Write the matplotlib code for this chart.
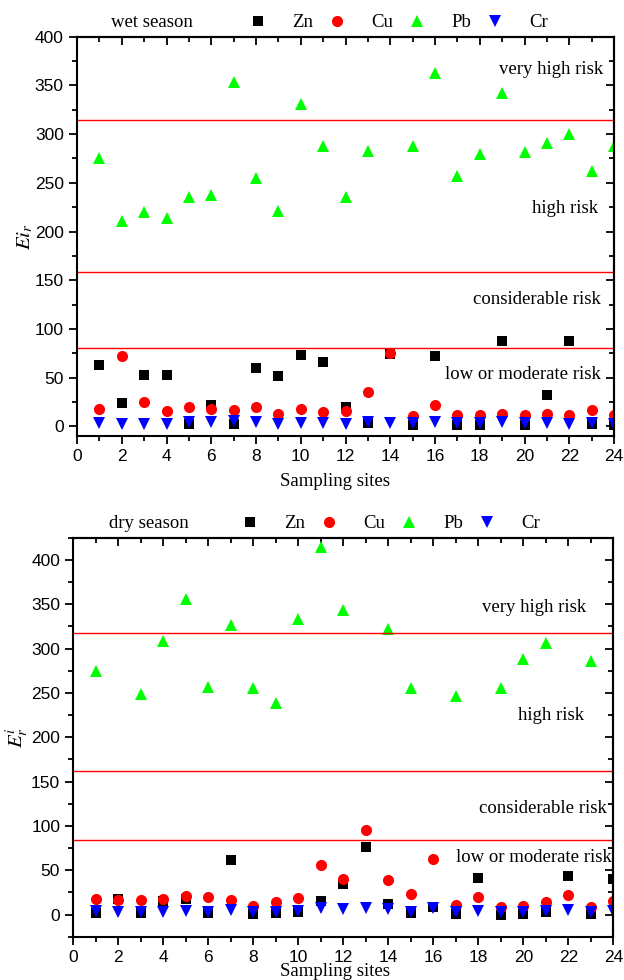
import matplotlib.pyplot as plt
import matplotlib.ticker as mticker
import numpy as np

plt.rcParams['mathtext.fontset'] = 'stix'

sites = np.arange(1, 25)
metals = ["Zn", "Cu", "Pb", "Cr"]

# wet season Er values
wet_zn = [63, 24, 53, 53, 2.6, 22, 2.6, 60, 52, 73, 66, 20,
          3.3, 74, 1.5, 72, 1.5, 1, 88, 1, 32, 88, 2.5, 1.5]
wet_cu = [18, 72, 25, 16, 20, 18, 17, 20, 13, 18, 15, 16,
          35, 75, 11, 22, 12, 12, 12.5, 11.5, 13, 12, 16.5, 12]
wet_pb = [275, 211, 220, 214, 235, 238, 354, 255, 221, 331, 288, 235,
          283, np.nan, 288, 363, 257, 280, 342, 282, 291, 300, 262, 288]
wet_cr = [3.3, 2.8, 2.5, 2.8, 4.6, 4, 5, 4, 2.8, 3.3, 3, 2.5,
          4.3, 3.6, 3.3, 4, 3, 3.3, 4.3, 3, 3.3, 2.8, 3.3, 2.2]
wet_levels = [314, 158, 80]

# dry season Er values
dry_zn = [1.5, 17.7, 1.5, 14.7, 17, 1.5, 61, 0.8, 1.5, 2.3, 14.7, 34,
          75.7, 12, 1.5, 8.7, 0.8, 40.7, 0, 0.8, 2.3, 43.7, 0.8, 40]
dry_cu = [18, 16.6, 16.2, 17.7, 21, 20.3, 16.6, 9.8, 13.6, 18.5, 55.4, 40.3,
          95.3, 38.4, 23.4, 63, 10.2, 19.6, 8.3, 9.4, 13.6, 22.2, 8.3, 15.8]
dry_pb = [275, np.nan, 249, 309, 356, 257, 326, 256, 239, 333, 414, 343,
          np.nan, 322, 255, np.nan, 247, np.nan, 255, 288, 306, np.nan, 286, np.nan]
dry_cr = [3.8, 3.4, 2.3, 3.4, 3.8, 3, 5.3, 2.3, 2.3, 3.8, 6.8, 6,
          6.8, 6, 3, 7.2, 2.6, 4.5, 3, 3, 3.8, 5.3, 2.3, 3.8]
dry_levels = [317, 162, 84]

risk_names = ["very high risk", "high risk", "considerable risk", "low or moderate risk"]

serif = "Liberation Serif"
sans = "Liberation Sans"

styles = [("s", "black", 7), ("o", "red", 8), ("^", "#00ff00", 9), ("v", "blue", 9)]


def panel(ax, series, levels, ylim, season, ylabel, text_pos, leg_x):
    handles = []
    for vals, (m, c, ms), name in zip(series, styles, metals):
        h, = ax.plot(sites, vals, ls="none", marker=m, color=c, ms=ms,
                     markeredgewidth=0, label=name)
        handles.append(h)
    for lv in levels:
        ax.axhline(lv, color="red", lw=1)
    for name, (tx, ty) in zip(risk_names, text_pos):
        ax.text(tx, ty, name, ha="right", va="center", family=serif, fontsize=13.5)

    ax.set_xlim(0, 24)
    ax.set_ylim(*ylim)
    ax.xaxis.set_major_locator(mticker.MultipleLocator(2))
    ax.xaxis.set_minor_locator(mticker.MultipleLocator(1))
    ax.yaxis.set_major_locator(mticker.MultipleLocator(50))
    ax.yaxis.set_minor_locator(mticker.MultipleLocator(25))
    ax.set_yticks([v for v in range(0, 401, 50)])
    ax.tick_params(which="major", direction="out", length=6, width=1.3,
                   labelsize=12.5)
    ax.tick_params(which="minor", direction="out", length=3.5, width=1.3)
    for lab in ax.get_xticklabels() + ax.get_yticklabels():
        lab.set_family(sans)
    for sp in ax.spines.values():
        sp.set_linewidth(1.5)

    # mirrored ticks on top and right, pointing inwards
    top = ax.secondary_xaxis("top")
    top.xaxis.set_major_locator(mticker.MultipleLocator(2))
    top.xaxis.set_minor_locator(mticker.MultipleLocator(1))
    top.tick_params(which="major", direction="in", length=6, width=1.3, labeltop=False)
    top.tick_params(which="minor", direction="in", length=3.5, width=1.3)
    right = ax.secondary_yaxis("right")
    right.yaxis.set_major_locator(mticker.MultipleLocator(50))
    right.yaxis.set_minor_locator(mticker.MultipleLocator(25))
    right.tick_params(which="major", direction="in", length=6, width=1.3, labelright=False)
    right.tick_params(which="minor", direction="in", length=3.5, width=1.3)
    for s in (top, right):
        for sp in s.spines.values():
            sp.set_linewidth(1.5)

    ax.text(0.14, 1.035, season, transform=ax.transAxes, ha="center", va="center",
            family=serif, fontsize=13.5)
    ax.legend(handles=handles, loc="center left", bbox_to_anchor=(leg_x, 1.035),
              ncol=4, frameon=False, handlelength=1, handletextpad=1.3,
              columnspacing=0.8, borderaxespad=0, borderpad=0,
              prop={"family": serif, "size": 13.5})
    ax.set_ylabel(ylabel, fontsize=15, labelpad=0)


fig = plt.figure(figsize=(6.24, 9.8), dpi=100)
ax1 = fig.add_axes([0.1234, 0.5551, 0.8606, 0.4074])
ax2 = fig.add_axes([0.1175, 0.0442, 0.8654, 0.4071])

panel(ax1, [wet_zn, wet_cu, wet_pb, wet_cr], wet_levels, (-10, 400), "wet season",
      r"$Ei_r$",
      [(23.5, 366), (23.3, 224), (23.4, 130), (23.4, 53)], 0.32)
panel(ax2, [dry_zn, dry_cu, dry_pb, dry_cr], dry_levels, (-25, 425), "dry season",
      r"$E^{i}_{r}$",
      [(22.8, 346), (22.7, 225), (23.7, 120), (23.95, 64)], 0.31)

fig.text(0.537, 0.509, "Sampling sites", ha="center", va="center",
         family=serif, fontsize=13.5)
fig.text(0.537, 0.009, "Sampling sites", ha="center", va="center",
         family=serif, fontsize=13.5)

fig.savefig("out.png", dpi=100)
